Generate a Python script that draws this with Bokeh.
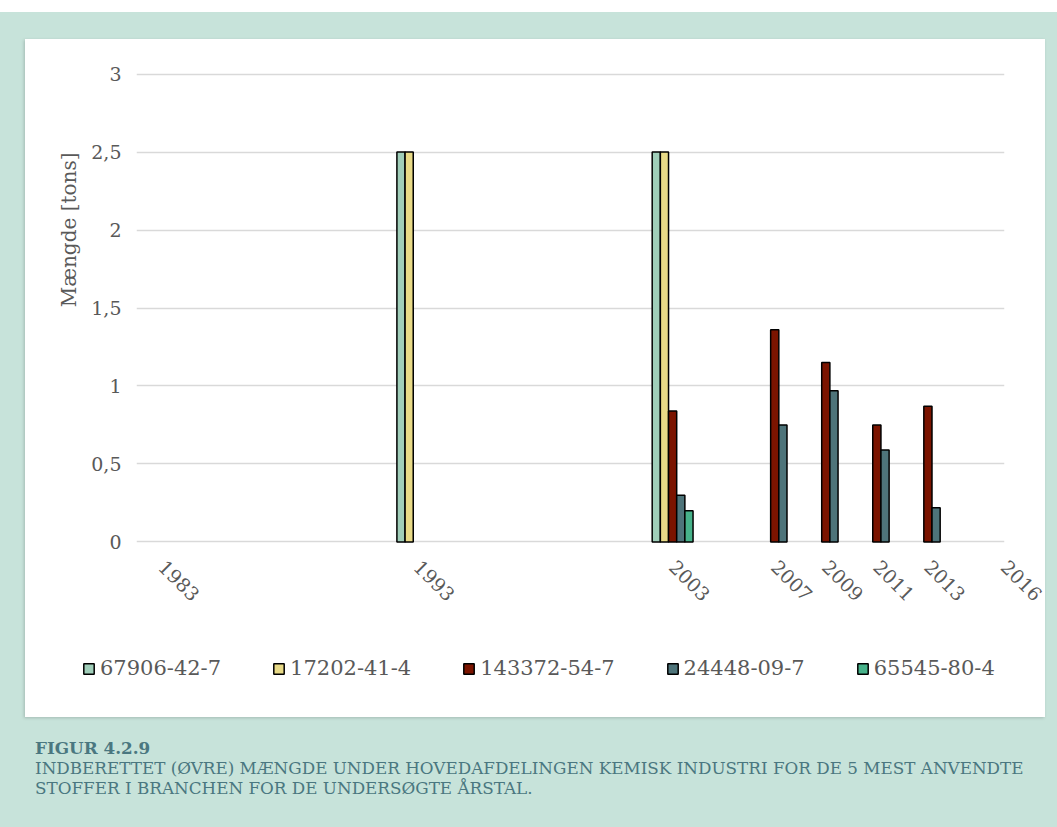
import numpy as np
from bokeh.plotting import figure
from bokeh.models import (ColumnDataSource, Range1d, FixedTicker, Legend,
                          LegendItem, Title, Div)
from bokeh.layouts import column, row
from bokeh.embed import file_html
from bokeh.resources import INLINE

# Reported amounts (tons) per year for the five most used substances
years = [1983, 1993, 2003, 2007, 2009, 2011, 2013, 2016]
series_names = ["67906-42-7", "17202-41-4", "143372-54-7", "24448-09-7", "65545-80-4"]
s_67906_42_7 = [None, 2.5, 2.5, None, None, None, None, None]
s_17202_41_4 = [None, 2.5, 2.5, None, None, None, None, None]
s_143372_54_7 = [None, None, 0.84, 1.36, 1.15, 0.75, 0.87, None]
s_24448_09_7 = [None, None, 0.30, 0.75, 0.97, 0.59, 0.22, None]
s_65545_80_4 = [None, None, 0.20, None, None, None, None, None]

y_ticks = [0, 0.5, 1, 1.5, 2, 2.5, 3]
y_tick_labels = ["0", "0,5", "1", "1,5", "2", "2,5", "3"]

series_values = [s_67906_42_7, s_17202_41_4, s_143372_54_7, s_24448_09_7, s_65545_80_4]
colors = ["#a0ceb9", "#e8da87", "#7b1400", "#4e747a", "#47b28a"]

FONT = "DejaVu Serif"
TEXT = "#595959"
MINT = "#c7e3da"
CAPTION = "#4a7780"
GRID = "#d9d9d9"

BAR_W = 0.32  # width of a single bar, in years

# ---- bar chart ----
p = figure(width=1020, height=601,
           x_range=Range1d(1982, 2016), y_range=Range1d(-0.01, 3.01),
           output_backend="svg", toolbar_location=None,
           min_border_left=111, min_border_right=41,
           min_border_top=33, min_border_bottom=97,
           background_fill_color="white", border_fill_color="white",
           outline_line_color=None)

yrs = np.array(years, dtype=float)
sources = []
for i, (vals, col) in enumerate(zip(series_values, colors)):
    top = np.array([np.nan if v is None else v for v in vals], dtype=float)
    src = ColumnDataSource(dict(x=yrs + (i - 2) * BAR_W, top=top))
    sources.append(src)
    p.vbar(x="x", top="top", bottom=0, width=BAR_W, source=src,
           fill_color=col, line_color="black", line_width=1.5)

p.xaxis.ticker = FixedTicker(ticks=years)
p.xaxis.major_label_overrides = {y: str(y) for y in years}
p.xaxis.major_label_orientation = -np.pi / 4
p.yaxis.ticker = FixedTicker(ticks=y_ticks)
p.yaxis.major_label_overrides = dict(zip(y_ticks, y_tick_labels))

for ax in (p.xaxis, p.yaxis):
    ax.axis_line_color = None
    ax.major_tick_line_color = None
    ax.minor_tick_line_color = None
    ax.major_label_text_font = FONT
    ax.major_label_text_color = TEXT
p.yaxis.major_label_text_font_size = "19px"
p.xaxis.major_label_text_font_size = "19px"
p.yaxis.major_label_standoff = 9
p.xaxis.major_label_standoff = 14

p.xgrid.grid_line_color = None
p.ygrid.grid_line_color = GRID
p.ygrid.grid_line_width = 1.5

# Value axis title, set towards the upper part of the axis
p.add_layout(Title(text="Mængde [tons]", align="right", offset=80,
                   vertical_align="middle", standoff=14,
                   text_font=FONT, text_font_size="20px",
                   text_font_style="normal", text_color=TEXT), "left")

# ---- legend strip under the chart ----
lg = figure(width=1020, height=77, x_range=Range1d(0, 1), y_range=Range1d(0, 1),
            output_backend="svg", toolbar_location=None,
            x_axis_location=None, y_axis_location=None,
            min_border=0, background_fill_color="white",
            border_fill_color="white", outline_line_color=None)
lg.xgrid.visible = False
lg.ygrid.visible = False

items = []
for name, col, src in zip(series_names, colors, sources):
    r = lg.vbar(x="x", top="top", bottom=0, width=BAR_W, source=src,
                fill_color=col, line_color="black", line_width=1.5,
                visible=False)
    items.append(LegendItem(label=name, renderers=[r]))

legend = Legend(items=items, orientation="horizontal", location=(57, 37),
                glyph_width=13, glyph_height=13, label_standoff=5, spacing=51,
                label_height=20, padding=0, margin=0, border_line_color=None,
                background_fill_alpha=0, inactive_fill_alpha=0,
                click_policy="none",
                label_text_font=FONT, label_text_font_size="21px",
                label_text_color=TEXT)
lg.add_layout(legend)

panel = column(p, row(lg), width=1020, margin=(27, 12, 0, 25),
               styles={"background-color": "white",
                       "box-shadow": "-1px 1px 3px rgba(0,0,0,0.18)"})

caption = Div(
    text=("<div style=\"font-family:'DejaVu Serif';color:%s;white-space:nowrap;"
          "font-size:16.8px;line-height:20px\">"
          "<b>FIGUR 4.2.9</b><br>"
          "INDBERETTET (ØVRE) MÆNGDE UNDER HOVEDAFDELINGEN KEMISK INDUSTRI FOR DE 5 MEST ANVENDTE<br>"
          "STOFFER I BRANCHEN FOR DE UNDERSØGTE ÅRSTAL.</div>") % CAPTION,
    width=1010, margin=(21, 0, 0, 35))

page = column(panel, caption, width=1057, height=815, margin=(12, 0, 0, 0),
              styles={"background-color": MINT})

open("out.html", "w").write(file_html(page, INLINE))
